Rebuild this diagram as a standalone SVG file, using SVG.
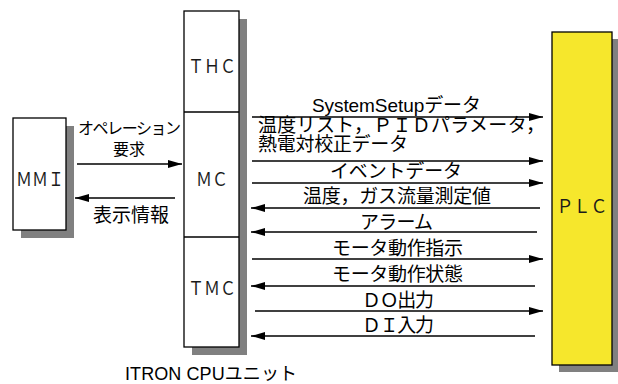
<svg xmlns="http://www.w3.org/2000/svg" width="618" height="384" viewBox="0 0 618 384">
<style>
.box{fill:#fff;stroke:#000;stroke-width:1.3}
.shadow{fill:#808080;stroke:none}
.plc{fill:#F6E72C;stroke:#000;stroke-width:1.3}
.lbl{font-family:"Noto Sans CJK JP","Noto Sans",sans-serif;font-size:18px;fill:#1a1a1a;text-anchor:middle;dominant-baseline:central}
.t{font-family:"Liberation Sans","Noto Sans CJK JP",sans-serif;font-size:19px;fill:#000}
.s{font-family:"Liberation Sans","Noto Sans CJK JP",sans-serif;font-size:16px;fill:#000}
.ln{stroke:#000;stroke-width:1.3;fill:none}
.r{marker-end:url(#ah)}
</style>
<defs>
<marker id="ah" markerUnits="userSpaceOnUse" markerWidth="15" markerHeight="8" refX="14" refY="4" orient="auto">
<path d="M0,0 L14,4 L0,8 z" fill="#000"/>
</marker>
</defs>
<rect width="618" height="384" fill="#fff"/>

<g id="MMI">
<rect class="shadow" x="21" y="126" width="53" height="112"/>
<rect class="box" x="13" y="118" width="53" height="112"/>
<text class="lbl" x="40" y="178" textLength="48" lengthAdjust="spacingAndGlyphs">ＭＭＩ</text>
</g>

<g id="CPU">
<rect class="shadow" x="192" y="19" width="55" height="336"/>
<rect class="box" x="184" y="11" width="55" height="336"/>
<line class="ln" x1="184" y1="112" x2="239" y2="112"/>
<line class="ln" x1="184" y1="237" x2="239" y2="237"/>
<text class="lbl" x="212" y="65" textLength="48" lengthAdjust="spacingAndGlyphs">ＴＨＣ</text>
<text class="lbl" x="212" y="178" textLength="32" lengthAdjust="spacingAndGlyphs">ＭＣ</text>
<text class="lbl" x="212" y="287" textLength="48" lengthAdjust="spacingAndGlyphs">ＴＭＣ</text>
<text class="t" x="211" y="380" text-anchor="middle" style="font-size:18px" textLength="172" lengthAdjust="spacing">ITRON CPUユニット</text>
</g>

<g id="PLC">
<rect class="shadow" x="559" y="39" width="60" height="333"/>
<rect class="plc" x="552" y="32" width="60" height="333"/>
<text class="lbl" x="582" y="205" textLength="51" lengthAdjust="spacingAndGlyphs">ＰＬＣ</text>
</g>

<g id="connectors">
<line class="ln r" x1="77" y1="164" x2="182" y2="164"/>
<line class="ln r" x1="175" y1="198" x2="75" y2="198"/>
<line class="ln r" x1="252" y1="117" x2="543" y2="117"/>
<line class="ln r" x1="252" y1="161" x2="543" y2="161"/>
<line class="ln r" x1="252" y1="183" x2="543" y2="183"/>
<line class="ln r" x1="540" y1="208" x2="251" y2="208"/>
<line class="ln r" x1="537" y1="232" x2="251" y2="232"/>
<line class="ln r" x1="252" y1="259" x2="543" y2="259"/>
<line class="ln r" x1="535" y1="286" x2="251" y2="286"/>
<line class="ln r" x1="255" y1="311" x2="543" y2="311"/>
<line class="ln r" x1="535" y1="336" x2="251" y2="336"/>
</g>

<g id="labels">
<text class="s" x="78" y="134" textLength="103" lengthAdjust="spacing">オペレーション</text>
<text class="s" x="129" y="155" text-anchor="middle">要求</text>
<text class="t" x="93" y="222" textLength="76" lengthAdjust="spacing">表示情報</text>
<text class="t" x="312" y="112" textLength="169" lengthAdjust="spacing">SystemSetupデータ</text>
<text class="t" x="258" y="132" textLength="287" lengthAdjust="spacing">温度リスト，ＰＩＤパラメータ，</text>
<text class="t" x="258" y="151" textLength="150" lengthAdjust="spacing">熱電対校正データ</text>
<text class="t" x="330" y="178" textLength="132" lengthAdjust="spacing">イベントデータ</text>
<text class="t" x="303" y="203" textLength="188" lengthAdjust="spacing">温度，ガス流量測定値</text>
<text class="t" x="360" y="229" textLength="73" lengthAdjust="spacing">アラーム</text>
<text class="t" x="332" y="255" textLength="131" lengthAdjust="spacing">モータ動作指示</text>
<text class="t" x="332" y="281" textLength="131" lengthAdjust="spacing">モータ動作状態</text>
<text class="t" x="362" y="307" textLength="72" lengthAdjust="spacing">ＤＯ出力</text>
<text class="t" x="362" y="332" textLength="72" lengthAdjust="spacing">ＤＩ入力</text>
</g>
</svg>
